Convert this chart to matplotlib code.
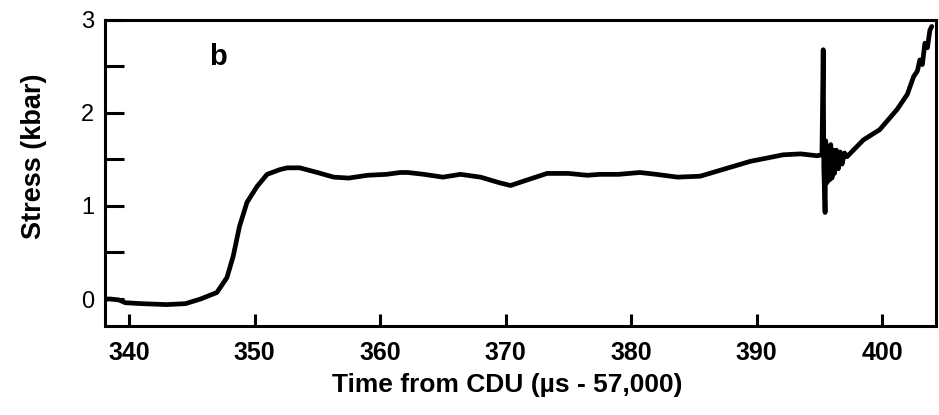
import matplotlib.pyplot as plt

plt.rcParams['font.family'] = ['Liberation Sans', 'DejaVu Sans']

# trace (time in us - 57,000, stress in kbar)
time_us = [338.1, 338.5, 339.2, 339.7, 341.0, 343.0, 344.5, 345.7, 347.0, 347.8,
           348.3, 348.8, 349.4, 350.2, 351.0, 352.0, 352.6, 353.6, 355.0, 356.3,
           357.5, 359.0, 360.5, 361.6, 362.2, 363.5, 365.0, 366.4, 368.0, 369.5,
           370.4, 371.5, 373.3, 375.0, 376.5, 377.5, 379.0, 380.7, 382.0, 383.7,
           385.5, 387.0, 389.5, 391.0, 392.1, 393.5, 394.8, 395.2, 395.3, 395.35,
           395.45, 395.5, 395.6, 395.7, 395.8, 395.9, 396.0, 396.1, 396.2, 396.35,
           396.5, 396.65, 396.8, 397.0, 397.2, 398.5, 399.8, 401.2, 402.0, 402.5,
           402.8, 403.0, 403.2, 403.4, 403.6, 403.8, 403.95]
stress_kbar = [0.00, 0.00, -0.01, -0.04, -0.05, -0.06, -0.05, 0.00, 0.07, 0.23,
               0.46, 0.78, 1.04, 1.21, 1.34, 1.39, 1.41, 1.41, 1.36, 1.31,
               1.30, 1.33, 1.34, 1.36, 1.36, 1.34, 1.31, 1.34, 1.31, 1.25,
               1.22, 1.27, 1.35, 1.35, 1.33, 1.34, 1.34, 1.36, 1.34, 1.31,
               1.32, 1.38, 1.48, 1.52, 1.55, 1.56, 1.54, 1.55, 2.68, 1.40,
               0.93, 1.70, 1.25, 1.62, 1.28, 1.66, 1.30, 1.60, 1.35, 1.60,
               1.40, 1.58, 1.45, 1.57, 1.53, 1.71, 1.82, 2.04, 2.20, 2.39,
               2.45, 2.57, 2.52, 2.75, 2.70, 2.89, 2.93]

x_ticks = [340, 350, 360, 370, 380, 390, 400]
y_major = [0, 1, 2, 3]
y_minor = [0.5, 1.5, 2.5]

fig = plt.figure(figsize=(9.39, 4.15), dpi=100)
ax = fig.add_axes([0.112, 0.2145, 0.885, 0.7375])

ax.plot(time_us, stress_kbar, color='black', lw=3.4,
        solid_joinstyle='round', solid_capstyle='round')

ax.set_xlim(338.1, 404.3)
ax.set_ylim(-0.29, 3.0)

ax.set_xticks(x_ticks)
ax.set_xticklabels([str(v) for v in x_ticks], fontsize=18, fontweight='bold')
ax.set_yticks(y_major)
ax.set_yticks(y_minor, minor=True)
ax.set_yticklabels([str(v) for v in y_major], fontsize=17)

ax.tick_params(axis='x', direction='in', length=9, width=2.2, pad=11)
ax.tick_params(axis='y', which='both', direction='in', length=14, width=2.2, pad=8)

for s in ax.spines.values():
    s.set_linewidth(2.2)

ax.set_xlabel('Time from CDU (\u00b5s - 57,000)', fontsize=19, fontweight='bold')
ax.xaxis.set_label_coords(0.484, -0.155, transform=ax.transAxes)
ax.xaxis.label.set_va('top')
ax.set_ylabel('Stress (kbar)', fontsize=19.5, fontweight='bold')
ax.yaxis.set_label_coords(-0.070, 0.555, transform=ax.transAxes)

ax.text(347.1, 2.6, 'b', fontsize=21, fontweight='bold', ha='center', va='center')

fig.savefig('out.png', dpi=100)
